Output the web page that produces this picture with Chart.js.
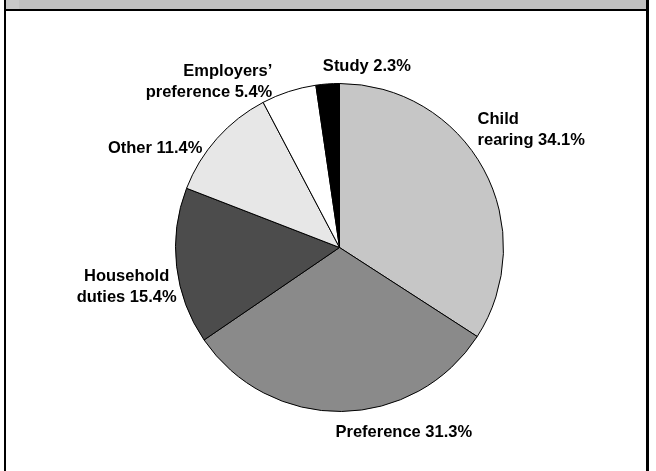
<!DOCTYPE html>
<html>
<head>
<meta charset="utf-8">
<style>
  html, body { margin: 0; padding: 0; background: #ffffff; }
  #wrap { width: 656px; height: 471px; position: relative; }
</style>
<script src="https://cdn.jsdelivr.net/npm/chart.js@4/dist/chart.umd.min.js"></script>
</head>
<body>
<div id="wrap"><canvas id="pie" width="656" height="471"></canvas></div>
<script>
// Reasons for part-time work (share of respondents, %)
const categories = ['Child rearing', 'Preference', 'Household duties', 'Other', "Employers' preference", 'Study'];
const shares = [34.1, 31.3, 15.4, 11.4, 5.4, 2.3];
const sliceColours = ['#c6c6c6', '#8a8a8a', '#4c4c4c', '#e7e7e7', '#ffffff', '#000000'];

// Label text lines per slice
const labelLines = [
  ['Child', 'rearing 34.1%'],
  ['Preference 31.3%'],
  ['Household', 'duties 15.4%'],
  ['Other 11.4%'],
  ['Employers\u2019', 'preference 5.4%'],
  ['Study 2.3%']
];
// Label anchors relative to the pie centre, in units of the pie radius
const labelAnchors = [
  { dx: 0.842, dy: -0.714, align: 'left' },
  { dx: 0.392, dy: 1.128, align: 'center' },
  { dx: -1.298, dy: 0.243, align: 'center' },
  { dx: -0.836, dy: -0.605, align: 'right' },
  { dx: -0.410, dy: -1.012, align: 'right' },
  { dx: 0.167, dy: -1.103, align: 'center' }
];

// Panel frame: grey heading strip and black borders
const framePlugin = {
  id: 'frame',
  beforeDraw(chart) {
    const ctx = chart.ctx;
    ctx.save();
    ctx.fillStyle = '#ffffff';
    ctx.fillRect(0, 0, chart.width, chart.height);
    ctx.fillStyle = '#c0c0c0';
    ctx.fillRect(6, 0, 642, 9);
    ctx.fillStyle = '#c8c8c8';
    ctx.fillRect(6, 0, 13, 9);
    ctx.fillStyle = '#000000';
    ctx.fillRect(4, 9, 645, 2);
    ctx.fillRect(4, 0, 2, chart.height);
    ctx.fillRect(646, 0, 3, chart.height);
    ctx.restore();
  }
};

// Slice labels placed around the pie
const sliceLabels = {
  id: 'sliceLabels',
  afterDatasetsDraw(chart) {
    const arc = chart.getDatasetMeta(0).data[0];
    if (!arc) return;
    const cx = arc.x, cy = arc.y, r = arc.outerRadius;
    const ctx = chart.ctx;
    const lineH = 21;
    ctx.save();
    ctx.font = 'bold 16.5px "Liberation Sans", Arial, sans-serif';
    ctx.fillStyle = '#000000';
    ctx.textBaseline = 'middle';
    labelLines.forEach((lines, i) => {
      const a = labelAnchors[i];
      const x = cx + a.dx * r;
      const yMid = cy + a.dy * r;
      ctx.textAlign = a.align;
      const y0 = yMid - (lines.length - 1) * lineH / 2;
      lines.forEach((t, k) => ctx.fillText(t, x, y0 + k * lineH));
    });
    ctx.restore();
  }
};

new Chart(document.getElementById('pie'), {
  type: 'pie',
  data: {
    labels: categories,
    datasets: [{
      data: shares,
      backgroundColor: sliceColours,
      borderColor: '#000000',
      borderWidth: 1
    }]
  },
  options: {
    responsive: false,
    animation: false,
    layout: { padding: { top: 83, bottom: 59, left: 175, right: 152 } },
    plugins: {
      legend: { display: false },
      tooltip: { enabled: false }
    }
  },
  plugins: [framePlugin, sliceLabels]
});
</script>
</body>
</html>
